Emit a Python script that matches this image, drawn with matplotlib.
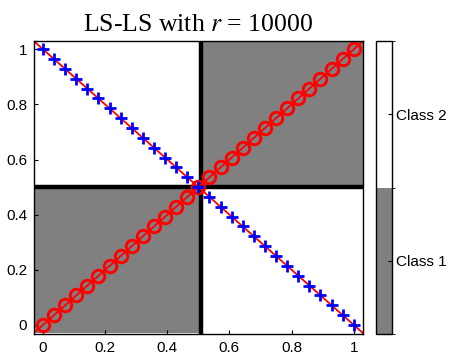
import numpy as np
import matplotlib
matplotlib.use("Agg")
import matplotlib.pyplot as plt
from matplotlib.colors import ListedColormap, BoundaryNorm

plt.rcParams['font.family'] = ['Liberation Sans', 'DejaVu Sans']
plt.rcParams['mathtext.fontset'] = 'stix'

# decision regions (class label per cell)
x_edges = [-0.03, 0.51, 1.03]
y_edges = [-0.03, 0.50, 1.03]
regions = [[1, 2],
           [2, 1]]
class_names = ["Class 1", "Class 2"]

# sample points along the two diagonals
t = np.linspace(0, 1, 29)
circ_x = t
circ_y = t
plus_x = t
plus_y = 1 - t

fig = plt.figure(figsize=(4.52, 3.61), dpi=100)
ax = fig.add_axes([0.0752, 0.0748, 0.728, 0.8116])
cax = fig.add_axes([0.832, 0.0748, 0.0354, 0.8116])

cmap = ListedColormap(['#808080', '#ffffff'])
norm = BoundaryNorm([0.5, 1.5, 2.5], cmap.N)
mesh = ax.pcolormesh(x_edges, y_edges, np.array(regions), cmap=cmap, norm=norm)

ax.axvline(x_edges[1], color='black', lw=3.2, zorder=3)
ax.axhline(y_edges[1], color='black', lw=3.2, zorder=3)

ax.plot([-0.1, 1.1], [-0.1, 1.1], color='red', lw=1.3, zorder=4)
ax.plot([-0.1, 1.1], [1.1, -0.1], color='red', lw=1.3, zorder=4)
ax.plot(circ_x, circ_y, 'o', mfc='none', mec='red', mew=2.1, ms=9, zorder=5)
ax.plot(plus_x, plus_y, '+', color='blue', mew=2.0, ms=9, zorder=5)

ax.set_xlim(-0.029, 1.03)
ax.set_ylim(-0.033, 1.03)
ax.set_xticks([0, 0.2, 0.4, 0.6, 0.8, 1])
ax.set_xticklabels(['0', '0.2', '0.4', '0.6', '0.8', '1'])
ax.set_yticks([0, 0.2, 0.4, 0.6, 0.8, 1])
ax.set_yticklabels(['0', '0.2', '0.4', '0.6', '0.8', '1'])
ax.tick_params(direction='in', length=3, labelsize=11, pad=5)
for s in ax.spines.values():
    s.set_linewidth(1.0)
    s.set_zorder(6)

ax.set_title(r"LS-LS with $r$ = 10000", family='Liberation Serif', fontsize=18.5, pad=7)

cb = fig.colorbar(mesh, cax=cax, ticks=[1, 2])
cb.ax.set_yticklabels(class_names)
cb.ax.tick_params(direction='in', length=3, labelsize=11, pad=3)
cb.outline.set_linewidth(1.0)

fig.savefig("out.png", dpi=100)
